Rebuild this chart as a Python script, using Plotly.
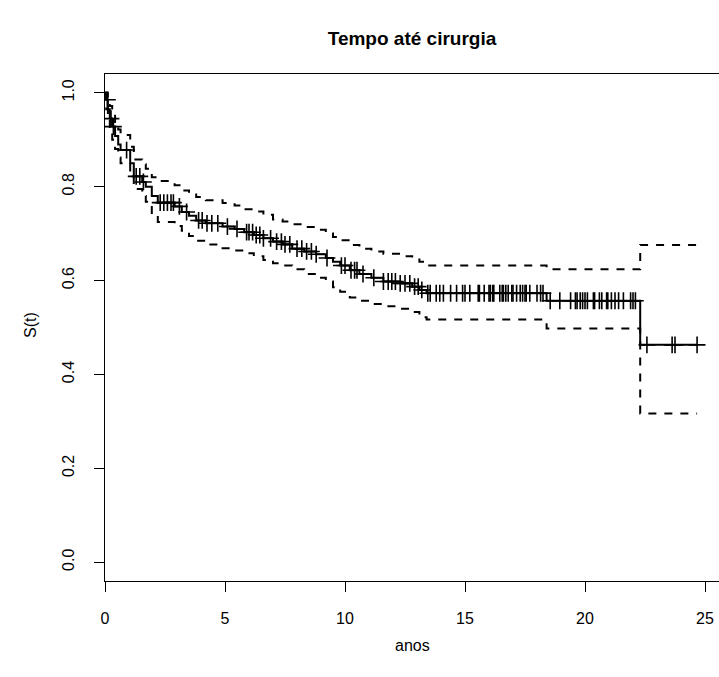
import numpy as np
import plotly.graph_objects as go

# Kaplan-Meier estimate (event times, survival, CI bounds)
event_times = [0.0, 0.05, 0.12, 0.2, 0.3, 0.42, 0.55, 0.65, 1.05, 1.2, 1.55, 1.7, 1.95, 2.2,
               2.9, 3.2, 3.5, 3.8, 4.2, 4.9, 5.4, 5.8, 6.2, 6.6, 7.0, 7.4, 7.8, 8.3, 8.8,
               9.2, 9.5, 9.8, 10.2, 10.6, 11.1, 11.6, 12.3, 12.8, 13.1, 13.4, 18.4, 22.3]
surv = [1.000, 0.985, 0.965, 0.945, 0.928, 0.908, 0.890, 0.878, 0.850, 0.822, 0.810, 0.800,
        0.780, 0.766, 0.758, 0.746, 0.738, 0.728, 0.722, 0.715, 0.710, 0.703, 0.697, 0.690,
        0.683, 0.677, 0.668, 0.662, 0.656, 0.648, 0.640, 0.632, 0.622, 0.614, 0.606, 0.598,
        0.594, 0.587, 0.580, 0.573, 0.557, 0.463]
upper = [1.000, 1.000, 0.990, 0.972, 0.955, 0.938, 0.922, 0.910, 0.885, 0.858, 0.848, 0.838,
         0.820, 0.812, 0.803, 0.792, 0.786, 0.778, 0.771, 0.765, 0.760, 0.752, 0.747, 0.740,
         0.730, 0.726, 0.720, 0.714, 0.708, 0.700, 0.693, 0.686, 0.676, 0.668, 0.662, 0.657,
         0.652, 0.645, 0.640, 0.632, 0.624, 0.676]
lower = [1.000, 0.965, 0.942, 0.920, 0.900, 0.880, 0.862, 0.850, 0.822, 0.795, 0.780, 0.768,
         0.744, 0.725, 0.716, 0.706, 0.695, 0.685, 0.677, 0.669, 0.664, 0.658, 0.652, 0.644,
         0.637, 0.632, 0.624, 0.614, 0.606, 0.598, 0.586, 0.576, 0.564, 0.557, 0.550, 0.545,
         0.540, 0.533, 0.522, 0.517, 0.498, 0.317]
last_time = 24.67

# Censoring times
censor_times = [0.1, 0.25, 0.35, 0.9, 1.3, 1.45, 1.6, 2.3, 2.45, 2.6, 2.75, 2.85, 3.1, 3.4,
                3.9, 4.05, 4.25, 4.45, 4.7, 5.1, 5.5, 5.9, 6.0, 6.15, 6.3, 6.45, 6.6, 6.9,
                7.15, 7.35, 7.5, 7.7, 8.0, 8.2, 8.4, 8.6, 8.8, 9.25, 9.85, 10.0, 10.25,
                10.4, 10.5, 10.75, 11.2, 11.6, 11.8, 11.95, 12.1, 12.3, 12.5, 12.7, 12.9,
                13.05, 13.2, 13.45, 13.55, 13.8, 13.95, 14.1, 14.4, 14.65, 14.9, 15.0, 15.2,
                15.55, 15.6, 15.8, 16.0, 16.05, 16.15, 16.2, 16.45, 16.55, 16.6, 16.7, 16.8,
                16.95, 17.0, 17.15, 17.3, 17.4, 17.5, 17.55, 17.7, 18.0, 18.15, 18.25, 18.55,
                18.95, 19.4, 19.6, 19.67, 19.8, 19.9, 20.0, 20.1, 20.35, 20.4, 20.6, 20.7,
                20.9, 20.95, 21.1, 21.25, 21.4, 21.6, 21.9, 22.0, 22.1, 22.58, 23.63, 23.75,
                24.67]

x_ticks = [0, 5, 10, 15, 20, 25]
y_ticks = [0.0, 0.2, 0.4, 0.6, 0.8, 1.0]
y_ticktext = ["0.0", "0.2", "0.4", "0.6", "0.8", "1.0"]

title_text = "<b>Tempo até cirurgia</b>"
x_label = "anos"
y_label = "S(t)"

# step data
xs = event_times + [last_time]
def ext(v):
    return list(v) + [v[-1]]

et = np.array(event_times)
sv = np.array(surv)
idx = np.searchsorted(et, np.array(censor_times), side="right") - 1
cens_y = sv[idx]

FONT = "Liberation Sans, Arial, sans-serif"

fig = go.Figure()
fig.add_trace(go.Scatter(x=xs, y=ext(upper), mode="lines", line_shape="hv",
                         line=dict(color="black", width=2, dash="8px,8px"), hoverinfo="skip"))
fig.add_trace(go.Scatter(x=xs, y=ext(lower), mode="lines", line_shape="hv",
                         line=dict(color="black", width=2, dash="8px,8px"), hoverinfo="skip"))
fig.add_trace(go.Scatter(x=xs, y=ext(surv), mode="lines", line_shape="hv",
                         line=dict(color="black", width=2), hoverinfo="skip"))
fig.add_trace(go.Scatter(x=censor_times, y=cens_y, mode="markers",
                         marker=dict(symbol="cross-thin", size=12,
                                     line=dict(color="black", width=1.6)),
                         hoverinfo="skip"))

pw, ph = 719 - 105, 677 - 74 - 96

fig.update_layout(
    width=719, height=677,
    margin=dict(l=105, r=0, t=74, b=96),
    paper_bgcolor="white", plot_bgcolor="white",
    showlegend=False,
    font=dict(family=FONT, color="black", size=16),
    title=dict(text=title_text, x=412 / 719, xref="container", xanchor="center",
               y=1 - 38 / 677, yref="container", yanchor="middle",
               font=dict(family=FONT, size=19, color="black")),
    xaxis=dict(range=[0, 614 / 24.0], tickvals=x_ticks, ticks="outside", ticklen=10,
               tickwidth=1, tickcolor="black", showline=True, linecolor="black",
               linewidth=1, mirror=True, showgrid=False, zeroline=False,
               tickfont=dict(size=16), ticklabelstandoff=13),
    yaxis=dict(range=[-0.04, 1.04], tickvals=y_ticks, ticktext=y_ticktext,
               ticks="outside", ticklen=10, tickwidth=1, tickcolor="black",
               showline=True, linecolor="black", linewidth=1, showgrid=False,
               zeroline=False, tickangle=-90, tickfont=dict(size=16),
               ticklabelstandoff=14),
    annotations=[
        dict(text=x_label, x=(412 - 105) / pw, y=(581 - 645) / ph, xref="paper",
             yref="paper", showarrow=False, xanchor="center", yanchor="middle",
             font=dict(size=16)),
        dict(text=y_label, x=(30 - 105) / pw, y=(581 - 325) / ph, xref="paper",
             yref="paper", showarrow=False, xanchor="center", yanchor="middle",
             textangle=-90, font=dict(size=16)),
    ],
)

fig.write_html("out.html")
